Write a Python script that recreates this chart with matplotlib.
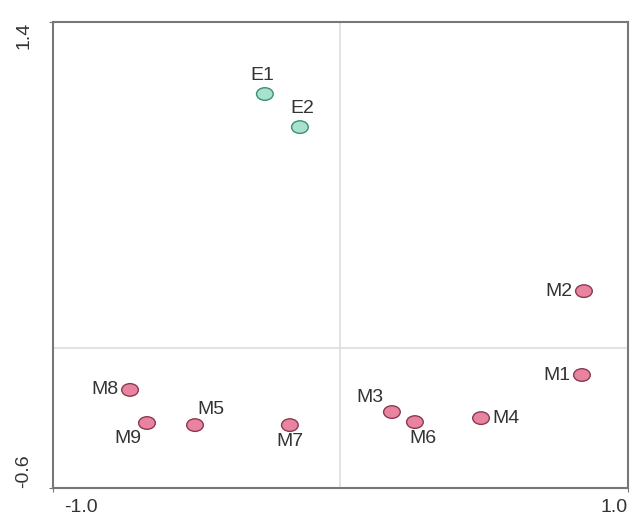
import matplotlib.pyplot as plt
import matplotlib.transforms as mtransforms
from matplotlib.patches import Ellipse

plt.rcParams['font.family'] = ['Liberation Sans', 'DejaVu Sans']

# --- dane ---
etykiety = ["E1", "E2", "M1", "M2", "M3", "M4", "M5", "M6", "M7", "M8", "M9"]
xs = [-0.263, -0.141, 0.840, 0.847, 0.179, 0.489, -0.506, 0.259, -0.176, -0.732, -0.673]
ys = [1.091, 0.949, -0.115, 0.245, -0.274, -0.300, -0.330, -0.317, -0.330, -0.179, -0.321]
grupy = ["E", "E", "M", "M", "M", "M", "M", "M", "M", "M", "M"]

# gdzie stoi podpis wzgledem punktu (dx, dy w punktach, ha, va)
podpisy = {
    "E1": (-2, 7, "center", "bottom"),
    "E2": (2, 7, "center", "bottom"),
    "M1": (-8, 0, "right", "center"),
    "M2": (-8, 0, "right", "center"),
    "M3": (-6, 4, "right", "bottom"),
    "M4": (8, 0, "left", "center"),
    "M5": (2, 5, "left", "bottom"),
    "M6": (6, -6, "center", "top"),
    "M7": (0, -6, "center", "top"),
    "M8": (-8, 0, "right", "center"),
    "M9": (-4, -5, "right", "top"),
}

kolory = {"E": ("#a6e2cc", "#3d8f76"), "M": ("#e8849f", "#8a3a52")}

fig = plt.figure(figsize=(6.33, 5.18), dpi=100)
ax = fig.add_axes([0.0837, 0.0579, 0.9083, 0.8996])
ax.set_xlim(-1.0, 1.0)
ax.set_ylim(-0.6, 1.4)

ax.axvline(0, color="#dddddd", lw=1.2, zorder=0)
ax.axhline(0, color="#dddddd", lw=1.2, zorder=0)

for x, y, lab, g in zip(xs, ys, etykiety, grupy):
    fc, ec = kolory[g]
    ax.add_patch(Ellipse((x, y), 0.058, 0.054, facecolor=fc, edgecolor=ec, lw=1.0, zorder=3))
    dx, dy, ha, va = podpisy[lab]
    ax.annotate(lab, (x, y), xytext=(dx, dy), textcoords="offset points",
                ha=ha, va=va, fontsize=14, color="#333333")

for s in ax.spines.values():
    s.set_color("#777777")
    s.set_linewidth(1.5)

ax.set_xticks([-1.0, 1.0])
ax.set_xticklabels(["-1.0", "1.0"], fontsize=14, color="#333333")
ax.set_yticks([-0.6, 1.4])
ax.set_yticklabels(["-0.6", "1.4"], fontsize=14, color="#333333", rotation=90)
ax.get_xticklabels()[0].set_ha("left")
ax.get_xticklabels()[1].set_ha("right")
ax.get_yticklabels()[0].set_va("bottom")
ax.get_yticklabels()[1].set_va("top")
ax.tick_params(length=3, color="#777777")
ax.tick_params(axis="y", pad=12)
ax.tick_params(axis="x", pad=5)
# lewy podpis osi x troche w prawo
przes = mtransforms.ScaledTranslation(8 / 72, 0, fig.dpi_scale_trans)
lab0 = ax.get_xticklabels()[0]
lab0.set_transform(lab0.get_transform() + przes)

fig.savefig("out.png", dpi=100)
